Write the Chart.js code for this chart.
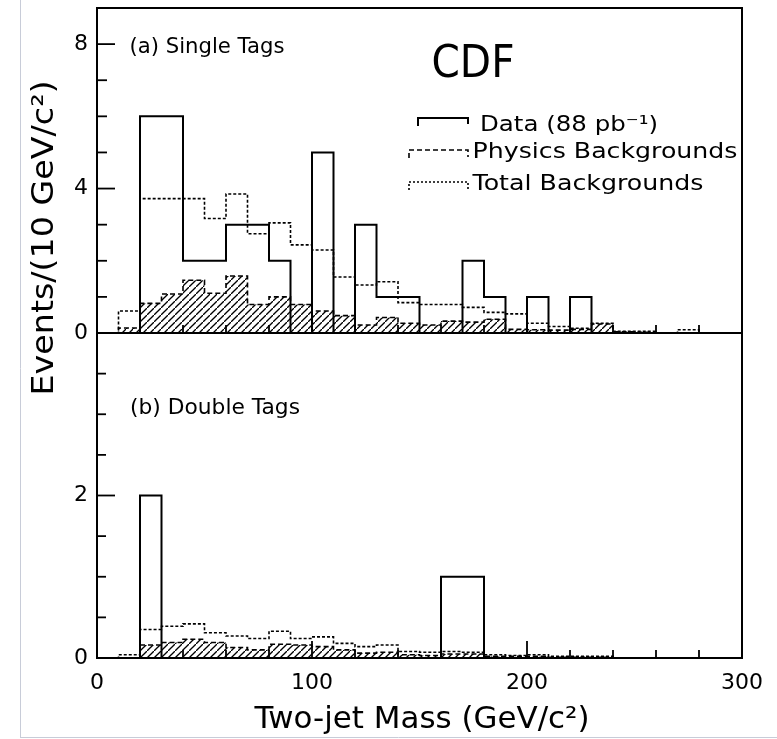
<!DOCTYPE html>
<html>
<head>
<meta charset="utf-8">
<script src="https://cdn.jsdelivr.net/npm/chart.js@4.4.0/dist/chart.umd.min.js"></script>
<style>
  html, body { margin: 0; padding: 0; background: #fff; }
  #wrap { width: 777px; height: 739px; }
</style>
</head>
<body>
<div id="wrap"><canvas id="myChart" width="777" height="739"></canvas></div>
<script>
// lower edge of each 10 GeV bin
const binLow = [0, 10, 20, 30, 40, 50, 60, 70, 80, 90, 100, 110, 120, 130, 140, 150, 160, 170, 180, 190, 200, 210, 220, 230, 240, 250, 260, 270, 280, 290];

// (a) single tags
const singleData  = [0, 0, 6, 6, 2, 2, 3, 3, 2, 0, 5, 0, 3, 1, 1, 0, 0, 2, 1, 0, 1, 0, 1, 0, 0, 0, 0, 0, 0, 0];
const singleTotal = [0, 0.61, 3.72, 3.72, 3.72, 3.17, 3.85, 2.75, 3.05, 2.44, 2.3, 1.55, 1.33, 1.42, 0.84, 0.79, 0.79, 0.71, 0.57, 0.53, 0.27, 0.18, 0.13, 0.27, 0.05, 0.05, 0, 0.09, 0, 0];
const singlePhys  = [0, 0.14, 0.82, 1.08, 1.46, 1.1, 1.58, 0.79, 1.0, 0.79, 0.61, 0.48, 0.22, 0.43, 0.27, 0.22, 0.33, 0.3, 0.38, 0.1, 0.09, 0.08, 0.1, 0.25, 0.03, 0.02, 0, 0, 0, 0];

// (b) double tags
const doubleData  = [0, 0, 2, 0, 0, 0, 0, 0, 0, 0, 0, 0, 0, 0, 0, 0, 1, 1, 0, 0, 0, 0, 0, 0, 0, 0, 0, 0, 0, 0];
const doubleTotal = [0, 0.04, 0.35, 0.39, 0.42, 0.31, 0.27, 0.24, 0.33, 0.24, 0.26, 0.18, 0.14, 0.16, 0.08, 0.07, 0.08, 0.07, 0.04, 0.03, 0.04, 0.02, 0.02, 0.02, 0, 0, 0, 0, 0, 0];
const doublePhys  = [0, 0, 0.16, 0.19, 0.23, 0.19, 0.13, 0.1, 0.17, 0.16, 0.14, 0.1, 0.06, 0.07, 0.04, 0.03, 0.05, 0.05, 0.02, 0.02, 0.02, 0.01, 0.01, 0.01, 0, 0, 0, 0, 0, 0];

// tick labels
const xLabels = [0, 100, 200, 300];
const yTopLabels = [0, 4, 8];
const yBotLabels = [0, 2];

const FONT = '"DejaVu Sans", sans-serif';
const BIN = 10;

// step outline: up at first edge, across each bin, down at last edge
function histPoints(vals) {
    const pts = [{ x: binLow[0], y: 0 }];
    vals.forEach((v, i) => pts.push({ x: binLow[i], y: v }));
    const end = binLow[binLow.length - 1] + BIN;
    pts.push({ x: end, y: vals[vals.length - 1] });
    pts.push({ x: end, y: 0 });
    return pts;
}

// diagonal hatch for the physics backgrounds
const pc = document.createElement('canvas');
pc.width = 7; pc.height = 7;
const pg = pc.getContext('2d');
pg.strokeStyle = '#000';
pg.lineWidth = 1.3;
pg.beginPath();
pg.moveTo(-1, 8); pg.lineTo(8, -1);
pg.stroke();
const hatch = pg.createPattern(pc, 'repeat');

function histSet(vals, axis, kind) {
    const ds = {
        data: histPoints(vals),
        yAxisID: axis,
        stepped: 'before',   // chart.js: 'before' = across first, then up/down
        pointRadius: 0,
        borderColor: '#000',
        fill: false,
    };
    if (kind === 'data') {
        ds.borderWidth = 2; ds.order = 0;
    } else if (kind === 'total') {
        ds.borderWidth = 1.6; ds.borderDash = [3, 2]; ds.order = 1;
    } else {
        ds.borderWidth = 1.6; ds.borderDash = [5, 3]; ds.order = 2;
        ds.fill = 'origin'; ds.backgroundColor = hatch;
    }
    return ds;
}

// draw text squeezed/stretched to a target width
function fitText(ctx, txt, cx, cy, size, width, rot) {
    ctx.save();
    ctx.font = size + 'px ' + FONT;
    ctx.fillStyle = '#000';
    ctx.textAlign = 'center';
    ctx.textBaseline = 'middle';
    ctx.translate(cx, cy);
    if (rot) ctx.rotate(rot);
    const w = ctx.measureText(txt).width;
    ctx.scale(width / w, 1);
    ctx.fillText(txt, 0, 0);
    ctx.restore();
}

function seg(ctx, x1, y1, x2, y2) {
    ctx.beginPath(); ctx.moveTo(x1, y1); ctx.lineTo(x2, y2); ctx.stroke();
}

const panelDeco = {
    id: 'panelDeco',
    afterDraw(chart) {
        const { ctx, chartArea: a } = chart;
        const x = chart.scales.x, yTop = chart.scales.yTop, yBot = chart.scales.yBot;
        const mid = yTop.getPixelForValue(0);
        ctx.save();

        // faint scan border
        ctx.strokeStyle = '#c8ccd8'; ctx.lineWidth = 1;
        seg(ctx, 20.5, 0, 20.5, 737);
        seg(ctx, 20, 737.5, 777, 737.5);

        ctx.strokeStyle = '#000';
        ctx.lineWidth = 2;
        ctx.strokeRect(a.left, a.top, a.right - a.left, a.bottom - a.top);
        seg(ctx, a.left, mid, a.right, mid);

        // inward y ticks
        ctx.lineWidth = 1.8;
        for (let v = 0; v <= 9; v++) {
            const py = yTop.getPixelForValue(v);
            seg(ctx, a.left, py, a.left + (v % 4 === 0 ? 18 : 10), py);
        }
        for (let v = 0; v <= 4; v += 0.5) {
            const py = yBot.getPixelForValue(v);
            seg(ctx, a.left, py, a.left + (v % 2 === 0 ? 18 : 9), py);
        }
        // upward x ticks on both panel floors
        for (let v = 0; v <= 300; v += 20) {
            const px = x.getPixelForValue(v);
            const big = v % 100 === 0;
            seg(ctx, px, a.bottom, px, a.bottom - (big ? 17 : 8));
            seg(ctx, px, mid, px, mid - (big ? 17 : 8));
        }

        // legend
        const lx0 = 409, lx1 = 468;
        ctx.lineWidth = 2;
        ctx.setLineDash([]);
        ctx.beginPath(); ctx.moveTo(418, 126); ctx.lineTo(418, 118); ctx.lineTo(lx1, 118); ctx.lineTo(lx1, 124); ctx.stroke();
        ctx.lineWidth = 1.6;
        ctx.setLineDash([5, 3]);
        ctx.beginPath(); ctx.moveTo(lx0, 158); ctx.lineTo(lx0, 150); ctx.lineTo(lx1, 150); ctx.lineTo(lx1, 157); ctx.stroke();
        ctx.setLineDash([2, 2]);
        ctx.beginPath(); ctx.moveTo(lx0, 190); ctx.lineTo(lx0, 182); ctx.lineTo(lx1, 182); ctx.lineTo(lx1, 189); ctx.stroke();
        ctx.setLineDash([]);
        ctx.restore();

        fitText(ctx, 'Data (88 pb\u207B\u00B9)', 569, 126, 21, 178);
        fitText(ctx, 'Physics Backgrounds', 605, 153, 21, 265);
        fitText(ctx, 'Total Backgrounds', 588, 185, 21, 231);

        fitText(ctx, '(a) Single Tags', 207, 47, 22, 155);
        fitText(ctx, '(b) Double Tags', 215, 408, 22, 170);
        fitText(ctx, 'CDF', 473, 66, 44, 83);

        fitText(ctx, 'Events/(10 GeV/c\u00B2)', 45, 238, 30, 315, -Math.PI / 2);
        fitText(ctx, 'Two-jet Mass (GeV/c\u00B2)', 422, 720, 30, 335);
    }
};

const tickFont = { family: FONT, size: 22 };

const config = {
    type: 'line',
    data: {
        datasets: [
            histSet(singleData, 'yTop', 'data'),
            histSet(singleTotal, 'yTop', 'total'),
            histSet(singlePhys, 'yTop', 'phys'),
            histSet(doubleData, 'yBot', 'data'),
            histSet(doubleTotal, 'yBot', 'total'),
            histSet(doublePhys, 'yBot', 'phys'),
        ]
    },
    options: {
        responsive: false,
        animation: false,
        layout: { padding: { left: 0, right: 35, top: 8, bottom: 0 } },
        plugins: { legend: { display: false }, tooltip: { enabled: false } },
        scales: {
            x: {
                type: 'linear', min: 0, max: 300,
                grid: { display: false, drawTicks: false },
                border: { display: false },
                ticks: {
                    stepSize: 20, autoSkip: false, maxRotation: 0, padding: 12,
                    color: '#000', font: tickFont,
                    callback: v => xLabels.includes(v) ? String(v) : ''
                },
                afterFit: s => { s.height = 81; s.paddingLeft = 0; s.paddingRight = 0; }
            },
            yBot: {
                type: 'linear', position: 'left', stack: 'panels', stackWeight: 1,
                min: 0, max: 4,
                grid: { display: false, drawTicks: false },
                border: { display: false },
                ticks: {
                    stepSize: 0.5, autoSkip: false, padding: 9,
                    color: '#000', font: tickFont,
                    callback: v => yBotLabels.includes(v) ? String(v) : ''
                },
                afterFit: s => { s.width = 97; s.paddingTop = 0; s.paddingBottom = 0; }
            },
            yTop: {
                type: 'linear', position: 'left', stack: 'panels', stackWeight: 1,
                min: 0, max: 9,
                grid: { display: false, drawTicks: false },
                border: { display: false },
                ticks: {
                    stepSize: 1, autoSkip: false, padding: 9,
                    color: '#000', font: tickFont,
                    callback: v => yTopLabels.includes(v) ? String(v) : ''
                },
                afterFit: s => { s.width = 97; s.paddingTop = 0; s.paddingBottom = 0; }
            }
        }
    },
    plugins: [panelDeco]
};

const myChart = new Chart(document.getElementById('myChart'), config);
</script>
</body>
</html>
